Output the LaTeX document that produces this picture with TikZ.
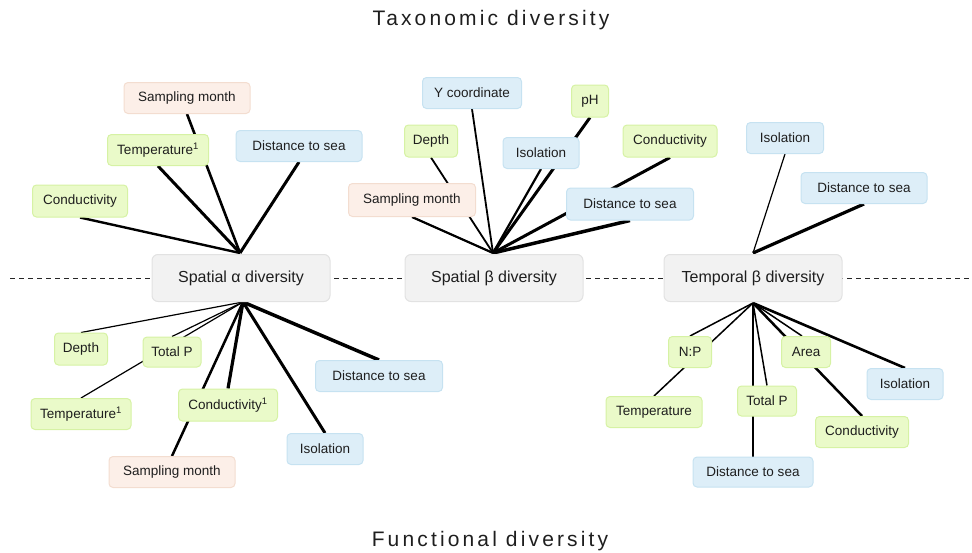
\documentclass[tikz,border=0pt]{standalone}
\usepackage{fontspec}
\setmainfont{Liberation Sans}
\usetikzlibrary{backgrounds}
\definecolor{txt}{HTML}{1E1E1E}
\definecolor{grayfill}{HTML}{F2F2F2}
\definecolor{grayline}{HTML}{E2E2E2}
\definecolor{greenfill}{HTML}{EAFAC9}
\definecolor{greenline}{HTML}{D6F2A4}
\definecolor{bluefill}{HTML}{DDEEF8}
\definecolor{blueline}{HTML}{C6E2F1}
\definecolor{peachfill}{HTML}{FCEFE8}
\definecolor{peachline}{HTML}{F3DDD0}
\tikzset{
  box/.style={rounded corners=4pt, line width=1pt, text=txt, font=\fontsize{13.5}{15}\selectfont, inner sep=0pt, minimum height=31pt},
  gbox/.style={box, fill=greenfill, draw=greenline},
  bbox/.style={box, fill=bluefill, draw=blueline},
  pbox/.style={box, fill=peachfill, draw=peachline},
  mainbox/.style={rounded corners=6pt, line width=1pt, fill=grayfill, draw=grayline, text=txt, font=\fontsize{16}{18}\selectfont, inner sep=0pt, minimum width=178pt, minimum height=47pt},
  link/.style={line width=#1, black},
  titlefont/.style={font=\fontsize{21}{24}\selectfont\addfontfeature{LetterSpace=15}, text=txt}
}
\begin{document}
\begin{tikzpicture}[x=1pt,y=-1pt]
\useasboundingbox (0,0) rectangle (972,552);
\node[titlefont, anchor=base] (tax) at (491,25) {Taxonomic diversity};
\node[titlefont, anchor=base] (fun) at (490,546) {Functional diversity};
% main nodes
\node[mainbox] (mA) at (241,278) {Spatial α diversity};
\node[mainbox] (mB) at (494,278) {Spatial β diversity};
\node[mainbox] (mT) at (753,278) {Temporal β diversity};
\coordinate (hAt) at (240,253);
\coordinate (hAb) at (243,302);
\coordinate (hBt) at (493,253);
\coordinate (hTt) at (753,253);
\coordinate (hTb) at (753,303);
\coordinate (dl) at (10,278);
\coordinate (dr) at (970,278);
% alpha top
\node[pbox, minimum width=126pt] (aSM) at (187,98) {Sampling month};
\node[gbox, minimum width=101pt] (aTe) at (158,150) {Temperature\textsuperscript{1}};
\node[bbox, minimum width=126pt] (aDi) at (299,146) {Distance to sea};
\node[gbox, minimum width=95pt, minimum height=32pt] (aCo) at (80,201) {Conductivity};
% beta top
\node[bbox, minimum width=99pt] (bY) at (472,93) {Y coordinate};
\node[gbox, minimum width=37pt, minimum height=32pt] (bpH) at (590,101) {pH};
\node[gbox, minimum width=53pt, minimum height=32pt] (bDe) at (431,141) {Depth};
\node[bbox, minimum width=76pt] (bIs) at (541,153) {Isolation};
\node[gbox, minimum width=94pt, minimum height=32pt] (bCo) at (670,141) {Conductivity};
\node[pbox, minimum width=127pt, minimum height=33pt] (bSM) at (412,200) {Sampling month};
\node[bbox, minimum width=127pt, minimum height=32pt] (bDi) at (630,204) {Distance to sea};
% temporal top
\node[bbox, minimum width=77pt] (tIs) at (785,138) {Isolation};
\node[bbox, minimum width=126pt] (tDi) at (864,188) {Distance to sea};
% alpha bottom
\node[gbox, minimum width=53pt, minimum height=32pt] (cDe) at (81,349) {Depth};
\node[gbox, minimum width=58pt, minimum height=30pt] (cTP) at (172,352) {Total P};
\node[gbox, minimum width=100pt] (cTe) at (81,414) {Temperature\textsuperscript{1}};
\node[gbox, minimum width=99pt, minimum height=32pt] (cCo) at (228,405) {Conductivity\textsuperscript{1}};
\node[bbox, minimum width=127pt] (cDi) at (379,376) {Distance to sea};
\node[bbox, minimum width=76pt] (cIs) at (325,449) {Isolation};
\node[pbox, minimum width=126pt] (cSM) at (172,472) {Sampling month};
% temporal bottom
\node[gbox, minimum width=43pt] (dNP) at (690,352) {N:P};
\node[gbox, minimum width=96pt] (dTe) at (654,412) {Temperature};
\node[gbox, minimum width=59pt, minimum height=30pt] (dTP) at (767,401) {Total P};
\node[gbox, minimum width=49pt] (dAr) at (806,352) {Area};
\node[bbox, minimum width=76pt] (dIs) at (905,384) {Isolation};
\node[gbox, minimum width=93pt] (dCo) at (862,432) {Conductivity};
\node[bbox, minimum width=120pt, minimum height=30pt] (dDi) at (753,472) {Distance to sea};
\begin{scope}[on background layer]
\draw[line width=1pt, dash pattern=on 5pt off 4pt, black!85] (dl) -- (dr);
% alpha top
\draw[link=2.6pt] (aSM.south) -- (hAt);
\draw[link=3pt] (aTe.south) -- (hAt);
\draw[link=3pt] (aDi.south) -- (hAt);
\draw[link=2.4pt] (aCo.south) -- (hAt);
% beta top
\draw[link=1.8pt] (bY.south) -- (hBt);
\draw[link=1.8pt] (bDe.south) -- (hBt);
\draw[link=2.2pt] (bSM.south) -- (hBt);
\draw[link=3pt] (bpH.south) -- (hBt);
\draw[link=2.2pt] (bIs.south) -- (hBt);
\draw[link=3pt] (bCo.south) -- (hBt);
\draw[link=3.5pt] (bDi.south) -- (hBt);
% temporal top
\draw[link=1.2pt] (tIs.south) -- (hTt);
\draw[link=3.2pt] (tDi.south) -- (hTt);
% alpha bottom
\draw[link=1.2pt] (cDe.north) -- (hAb);
\draw[link=1.2pt] (cTP.north) -- (hAb);
\draw[link=1.2pt] (cTe.north) -- (hAb);
\draw[link=3.2pt] (cCo.north) -- (hAb);
\draw[link=2.5pt] (cSM.north) -- (hAb);
\draw[link=3pt] (cIs.north) -- (hAb);
\draw[link=3.5pt] (cDi.north) -- (hAb);
% temporal bottom
\draw[link=1.5pt] (dNP.north) -- (hTb);
\draw[link=1.5pt] (dTe.north) -- (hTb);
\draw[link=2pt] (dDi.north) -- (hTb);
\draw[link=1.5pt] (dTP.north) -- (hTb);
\draw[link=1.5pt] ([xshift=-4pt]dAr.north) -- (hTb);
\draw[link=2.5pt] (dCo.north) -- (hTb);
\draw[link=2.6pt] (dIs.north) -- (hTb);
\end{scope}
\end{tikzpicture}
\end{document}
